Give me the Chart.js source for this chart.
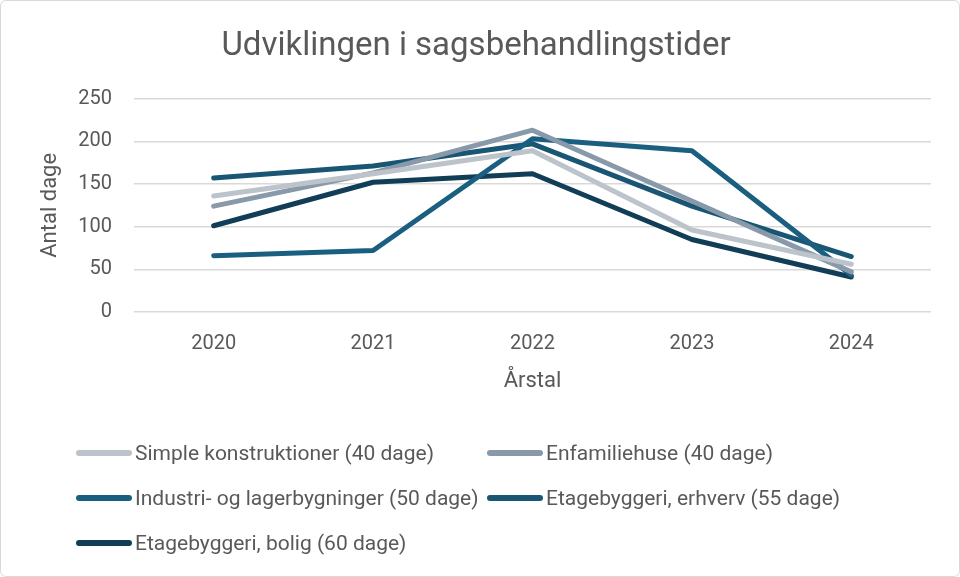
<!DOCTYPE html>
<html>
<head>
<meta charset="utf-8">
<script src="https://cdn.jsdelivr.net/npm/chart.js@4"></script>
<style>
  html, body { margin: 0; padding: 0; background: #fff; }
  #wrap { position: relative; width: 958px; height: 575px; border: 1px solid #d9d9d9; border-radius: 6px; overflow: hidden; }
  #chart { position: absolute; left: 0; top: 0; }
  #legend { position: absolute; left: 75px; top: 437px; display: grid; grid-template-columns: 411px auto; row-gap: 16px;
            font-family: "Roboto", sans-serif; font-size: 21px; color: #595959; }
  .item { display: flex; align-items: center; height: 29px; white-space: nowrap; }
  .swatch { width: 56px; height: 6px; border-radius: 3px; margin-right: 3px; }
</style>
</head>
<body>
<div id="wrap">
  <canvas id="chart" width="958" height="575"></canvas>
  <div id="legend"></div>
</div>
<script>
const years = ['2020', '2021', '2022', '2023', '2024'];
const yTicks = [0, 50, 100, 150, 200, 250];

const seriesNames = [
  'Simple konstruktioner (40 dage)',
  'Enfamiliehuse (40 dage)',
  'Industri- og lagerbygninger (50 dage)',
  'Etagebyggeri, erhverv (55 dage)',
  'Etagebyggeri, bolig (60 dage)'
];
const seriesColors = ['#bcc3ca', '#8899aa', '#1b5f80', '#185674', '#113e56'];

const simpleValues = [136, 162, 189, 96, 56];
const enfamilieValues = [124, 163, 213, 130, 47];
const industriValues = [66, 72, 203, 189, 43];
const erhvervValues = [157, 171, 197, 124, 65];
const boligValues = [101, 152, 162, 85, 41];

const seriesValues = [simpleValues, enfamilieValues, industriValues, erhvervValues, boligValues];

const fontFamily = '"Roboto", sans-serif';
const textColor = '#595959';

const datasets = seriesNames.map((name, i) => ({
  label: name,
  data: seriesValues[i],
  borderColor: seriesColors[i],
  backgroundColor: seriesColors[i],
  borderWidth: 5,
  borderCapStyle: 'round',
  borderJoinStyle: 'round',
  pointRadius: 0,
  pointHoverRadius: 0,
  tension: 0
}));

new Chart(document.getElementById('chart').getContext('2d'), {
  type: 'line',
  data: { labels: years, datasets: datasets },
  options: {
    responsive: false,
    animation: false,
    layout: { padding: { left: 20, right: 28, top: 12, bottom: 174 } },
    plugins: {
      legend: { display: false },
      tooltip: { enabled: false },
      title: {
        display: true,
        text: 'Udviklingen i sagsbehandlingstider',
        color: textColor,
        font: { family: fontFamily, size: 33, weight: 'normal' },
        padding: { top: 14, bottom: 32 }
      }
    },
    scales: {
      x: {
        offset: true,
        grid: { display: false, drawTicks: false },
        border: { display: false },
        ticks: { color: textColor, font: { family: fontFamily, size: 20 }, padding: 20 },
        title: { display: true, text: 'Årstal', color: textColor, font: { family: fontFamily, size: 22 }, padding: { top: 0, bottom: 7 } },
        afterFit: (scale) => { scale.height = 90; }
      },
      y: {
        min: 0,
        max: 250,
        afterBuildTicks: (scale) => { scale.ticks = yTicks.map(v => ({ value: v })); },
        grid: { color: '#d9d9d9', lineWidth: 1.5, drawTicks: false },
        border: { display: false },
        ticks: { color: textColor, font: { family: fontFamily, size: 20 }, padding: 22 },
        title: { display: true, text: 'Antal dage', color: textColor, font: { family: fontFamily, size: 22 }, padding: { top: 16, bottom: 0 } },
        afterFit: (scale) => { scale.width = 113; }
      }
    }
  }
});

// legend as html, two columns
const legendEl = document.getElementById('legend');
seriesNames.forEach((name, i) => {
  const item = document.createElement('div');
  item.className = 'item';
  const sw = document.createElement('span');
  sw.className = 'swatch';
  sw.style.background = seriesColors[i];
  const txt = document.createElement('span');
  txt.textContent = name;
  item.appendChild(sw);
  item.appendChild(txt);
  legendEl.appendChild(item);
});
</script>
</body>
</html>
